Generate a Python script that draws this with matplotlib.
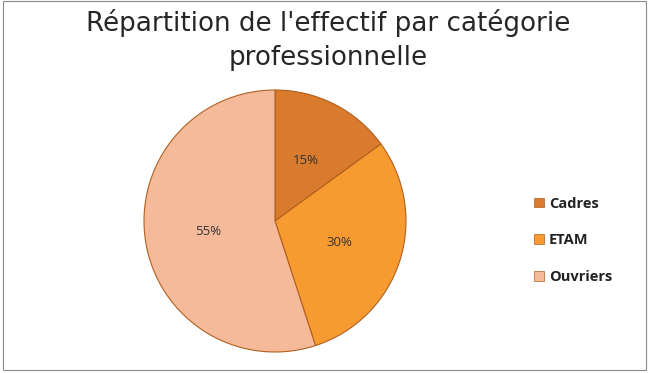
import matplotlib
matplotlib.use("Agg")
import matplotlib.pyplot as plt
from matplotlib.patches import Patch, Rectangle

categories = ["Cadres", "ETAM", "Ouvriers"]
values = [15, 30, 55]
colors = ["#D97A2C", "#F79B30", "#F5BA9A"]
title = "Répartition de l'effectif par catégorie\nprofessionnelle"

fig = plt.figure(figsize=(6.49, 3.73), dpi=100)
fig.patch.set_facecolor("white")

# outer frame
fig.add_artist(Rectangle((0.004, 0.008), 0.992, 0.988, transform=fig.transFigure,
                         fill=False, edgecolor="#8C8C8C", linewidth=0.8))

cx, cy, r = 275 / 649, (373 - 221) / 373, 131
w = 2 * r / 649
h = 2 * r / 373
ax = fig.add_axes([cx - w / 2, cy - h / 2, w, h])
wedges, texts, autotexts = ax.pie(
    values, colors=colors, startangle=90, counterclock=False,
    autopct=lambda p: f"{p:.0f}%", pctdistance=0.52,
    wedgeprops=dict(edgecolor="#B0601E", linewidth=0.8),
    textprops=dict(fontsize=9.5, color="#333333", family="Open Sans"))
ax.set_aspect("equal")
ax.set_xlim(-1, 1)
ax.set_ylim(-1, 1)

fig.text(0.505, 0.975, title, ha="center", va="top", fontsize=18.8,
         color="#262626", family="DejaVu Sans", linespacing=1.38)

handles = [Patch(facecolor=c, edgecolor="#B0601E", linewidth=0.5) for c in colors]
leg = fig.legend(handles, categories, loc="upper left",
                 bbox_to_anchor=(0.803, 0.508), frameon=False,
                 handlelength=0.65, handleheight=0.65, handletextpad=0.35,
                 labelspacing=1.55, prop=dict(family="Open Sans", weight="bold", size=10.5))
for t in leg.get_texts():
    t.set_color("#222222")

fig.savefig("out.png", dpi=100)
